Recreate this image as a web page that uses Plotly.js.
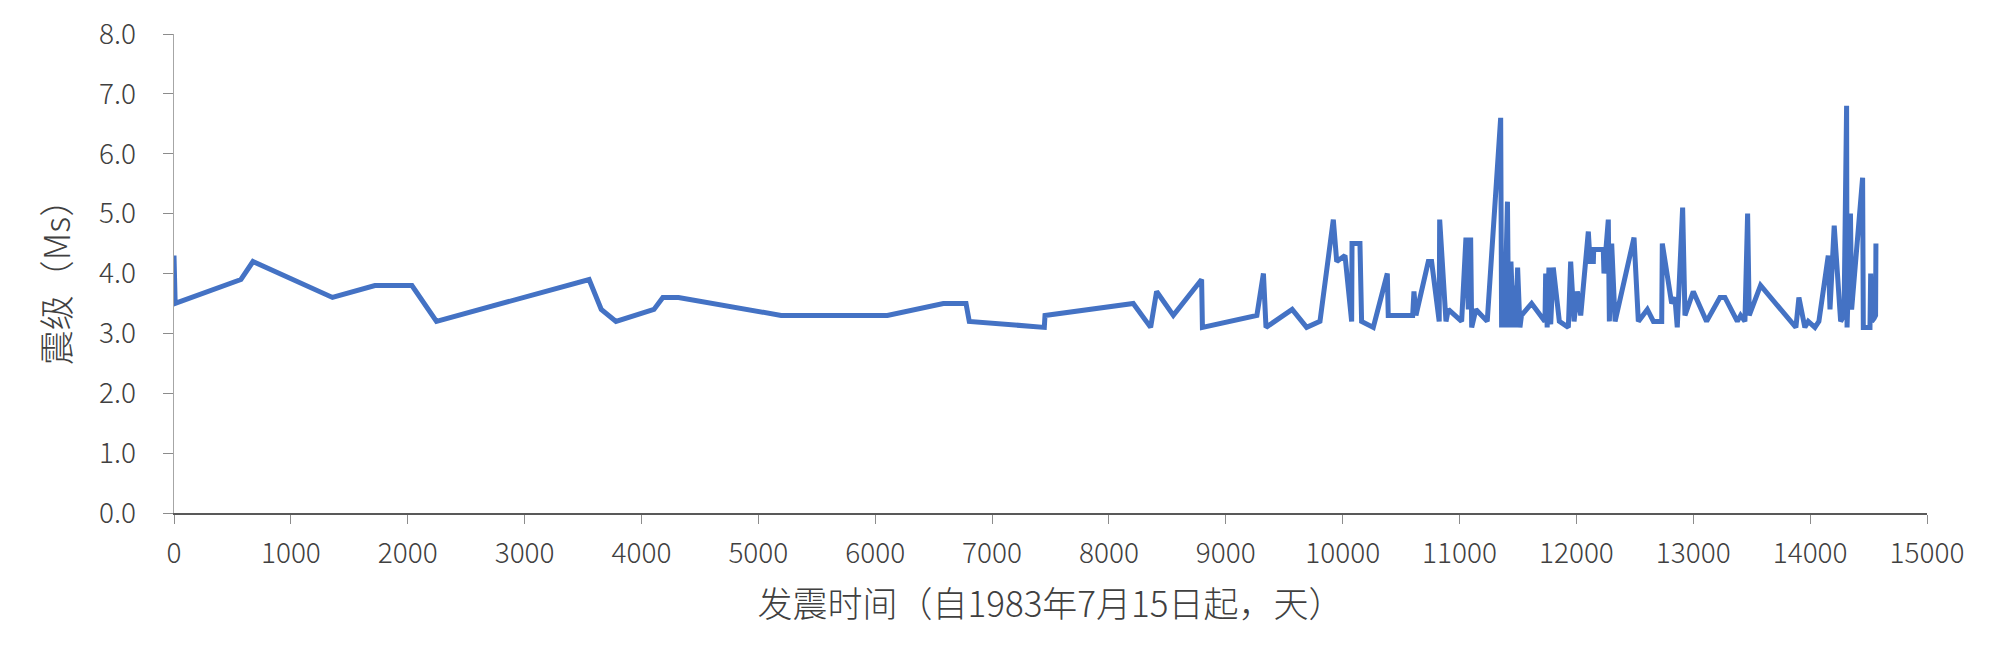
<!DOCTYPE html>
<html>
<head>
<meta charset="utf-8">
<script src="https://cdn.plot.ly/plotly-3.0.1.min.js"></script>
<style>html,body{margin:0;padding:0;background:#fff;}#chart{width:2000px;height:672px;}</style>
</head>
<body>
<div id="chart"></div>
<script>
const days = [0, 10, 573, 676, 1356, 1719, 2036, 2246, 3552, 3656, 3782, 4107, 4183, 4317, 5195, 6104, 6583, 6777, 6805, 7447, 7453, 8208, 8357, 8408, 8551, 8793, 8800, 9266, 9322, 9344, 9568, 9692, 9806, 9920, 9949, 10020, 10077, 10080, 10148, 10162, 10262, 10382, 10390, 10599, 10610, 10627, 10733, 10761, 10826, 10830, 10884, 10904, 11018, 11055, 11075, 11095, 11104, 11140, 11237, 11352, 11360, 11375, 11385, 11410, 11420, 11440, 11460, 11470, 11480, 11497, 11517, 11530, 11617, 11731, 11737, 11750, 11765, 11780, 11802, 11854, 11931, 11951, 11980, 12008, 12037, 12102, 12117, 12145, 12148, 12230, 12236, 12273, 12282, 12302, 12331, 12493, 12530, 12607, 12659, 12730, 12735, 12815, 12843, 12863, 12909, 12929, 13000, 13114, 13228, 13271, 13377, 13405, 13442, 13465, 13479, 13576, 13878, 13904, 13955, 13984, 14041, 14075, 14155, 14170, 14206, 14261, 14290, 14312, 14316, 14345, 14355, 14375, 14449, 14455, 14512, 14518, 14527, 14547, 14560, 14563];
const magnitudes = [4.3, 3.5, 3.9, 4.2, 3.6, 3.8, 3.8, 3.2, 3.9, 3.4, 3.2, 3.4, 3.6, 3.6, 3.3, 3.3, 3.5, 3.5, 3.2, 3.1, 3.3, 3.5, 3.1, 3.7, 3.3, 3.9, 3.1, 3.3, 4.0, 3.1, 3.4, 3.1, 3.2, 4.9, 4.2, 4.3, 3.2, 4.5, 4.5, 3.2, 3.1, 4.0, 3.3, 3.3, 3.7, 3.3, 4.2, 4.2, 3.2, 4.9, 3.2, 3.4, 3.2, 4.6, 3.4, 4.6, 3.1, 3.4, 3.2, 6.6, 3.1, 4.3, 3.1, 5.2, 3.1, 4.2, 3.1, 3.8, 3.1, 4.1, 3.1, 3.3, 3.5, 3.2, 4.0, 3.1, 4.1, 3.15, 4.1, 3.2, 3.1, 4.2, 3.2, 3.7, 3.3, 4.7, 4.2, 4.2, 4.4, 4.4, 4.0, 4.9, 3.2, 4.5, 3.2, 4.6, 3.2, 3.4, 3.2, 3.2, 4.5, 3.5, 3.6, 3.1, 5.1, 3.3, 3.7, 3.2, 3.6, 3.6, 3.2, 3.3, 3.2, 5.0, 3.3, 3.8, 3.1, 3.6, 3.1, 3.2, 3.1, 3.2, 4.3, 3.4, 4.8, 3.2, 3.3, 6.8, 3.1, 5.0, 3.4, 3.9, 5.6, 3.1, 3.1, 4.0, 3.2, 3.25, 3.3, 4.5];
const xTickValues = [0, 1000, 2000, 3000, 4000, 5000, 6000, 7000, 8000, 9000, 10000, 11000, 12000, 13000, 14000, 15000];
const yTickValues = [0, 1, 2, 3, 4, 5, 6, 7, 8];
const xTitle = '发震时间（自1983年7月15日起，天）';
const yTitle = '震级（Ms）';

const fontFamily = '"Noto Sans CJK SC", "Noto Sans", sans-serif';

Plotly.newPlot('chart', [{
  x: days,
  y: magnitudes,
  type: 'scatter',
  mode: 'lines',
  line: {color: '#4472C4', width: 5, shape: 'linear'},
  hoverinfo: 'x+y'
}], {
  width: 2000,
  height: 672,
  margin: {l: 174, r: 73, t: 34, b: 159},
  paper_bgcolor: '#ffffff',
  plot_bgcolor: '#ffffff',
  showlegend: false,
  font: {family: fontFamily, color: '#404040', size: 28},
  xaxis: {
    range: [0, 15000],
    tickvals: xTickValues,
    ticktext: xTickValues.map(String),
    showgrid: false,
    zeroline: false,
    showline: true,
    linecolor: '#595959',
    linewidth: 1.5,
    ticks: 'outside',
    ticklen: 9,
    tickwidth: 1,
    tickcolor: '#8c8c8c',
    ticklabelstandoff: 6,
    tickfont: {family: fontFamily, size: 28, color: '#404040', weight: 300},
    title: {text: xTitle, font: {family: fontFamily, size: 35, color: '#404040', weight: 300}, standoff: 22}
  },
  yaxis: {
    range: [0, 8],
    tickvals: yTickValues,
    ticktext: yTickValues.map(v => v.toFixed(1)),
    showgrid: false,
    zeroline: false,
    showline: true,
    linecolor: '#a6a6a6',
    linewidth: 1.5,
    ticks: 'outside',
    ticklen: 10,
    tickwidth: 1,
    tickcolor: '#8c8c8c',
    ticklabelstandoff: 21,
    tickfont: {family: fontFamily, size: 28, color: '#404040', weight: 300},
    title: {text: yTitle, font: {family: fontFamily, size: 35, color: '#404040', weight: 300}, standoff: 17}
  }
}, {displayModeBar: false, staticPlot: true});
</script>
</body>
</html>
